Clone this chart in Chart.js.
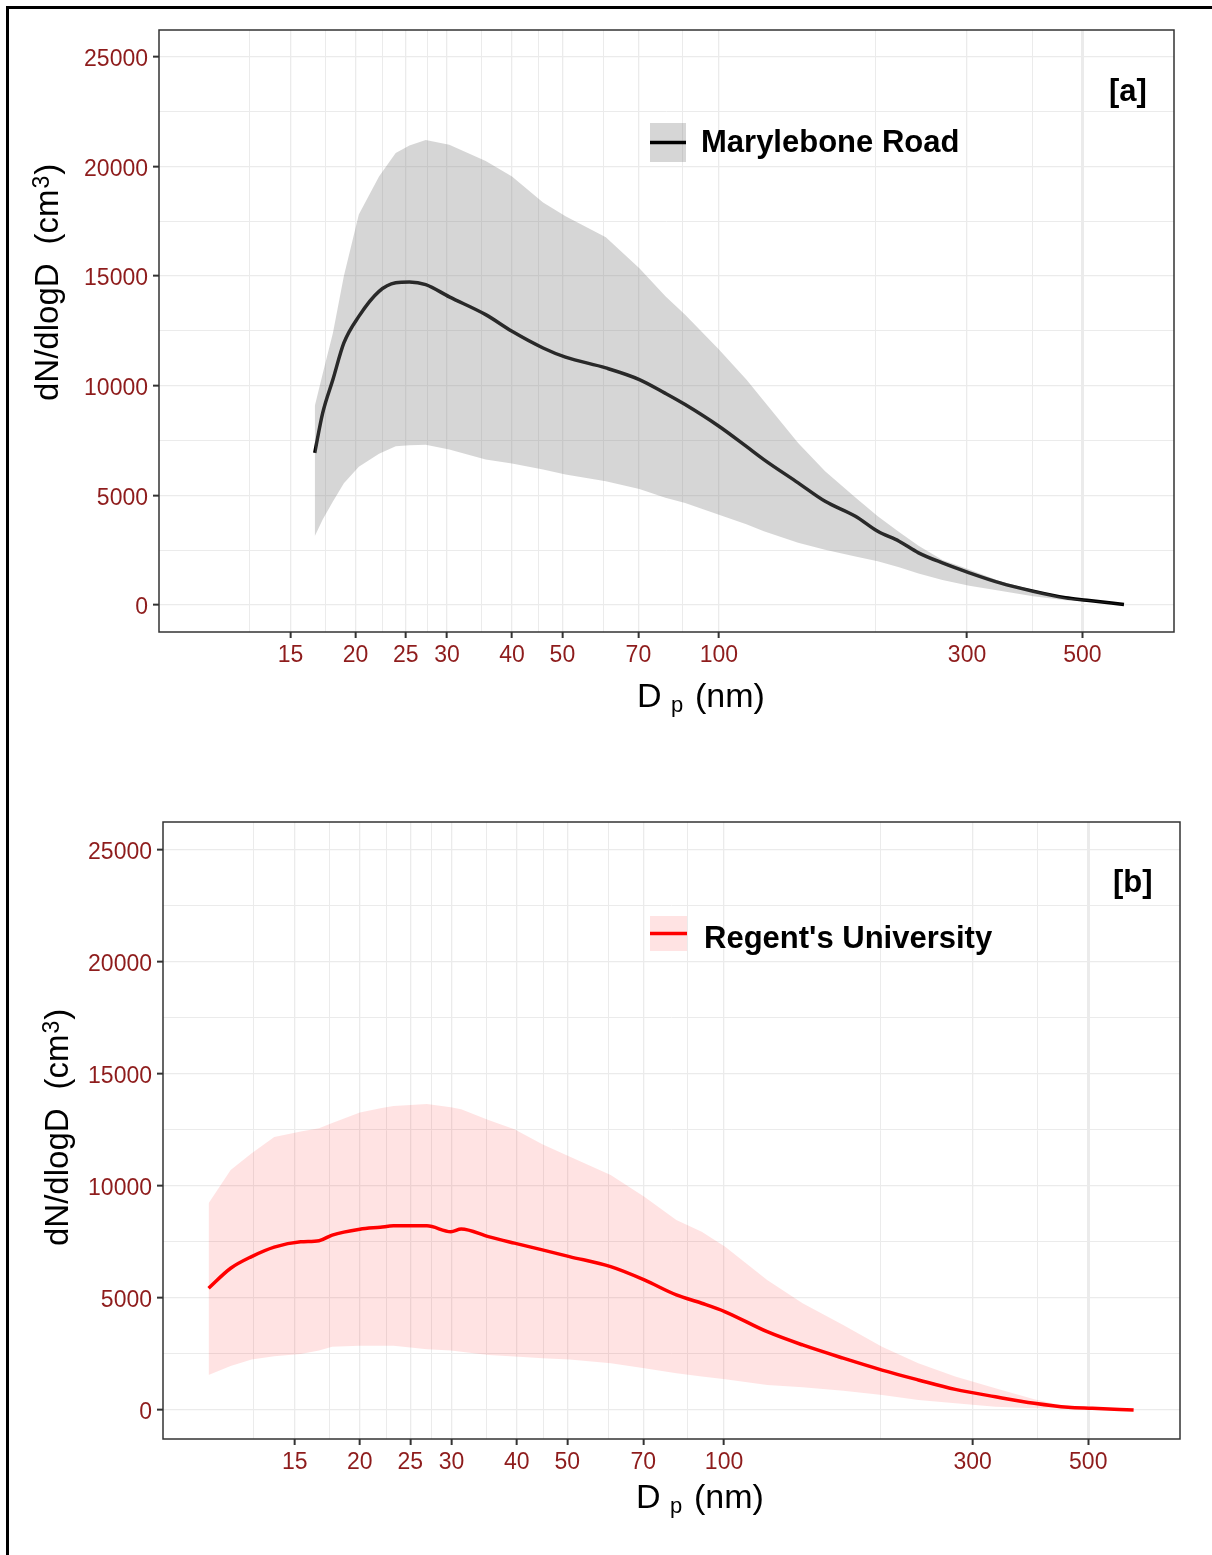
<!DOCTYPE html>
<html>
<head>
<meta charset="utf-8">
<script src="https://cdn.jsdelivr.net/npm/chart.js@4.4.1/dist/chart.umd.min.js"></script>
<style>
body { margin: 0; background: #fff; }
#page { position: relative; width: 1212px; height: 1555px; overflow: hidden; }
#frame { position: absolute; left: 6px; top: 6px; width: 1300px; height: 1700px; border-left: 3.5px solid #000; border-top: 3.5px solid #000; }
canvas { position: absolute; left: 0; }
#chartA { top: 0; }
#chartB { top: 780px; }
</style>
</head>
<body>
<div id="page">
<div id="frame"></div>
<canvas id="chartA" width="1212" height="780"></canvas>
<canvas id="chartB" width="1212" height="775"></canvas>
</div>
<script>
// tick values (nm) for the log x axis; minor ones only get a grid line
var xMajor = [15, 20, 25, 30, 40, 50, 70, 100, 300, 500];
var xMinor = [12.5, 17.5, 22.5, 27.5, 35, 45, 60, 85, 200, 400];
var yMajor = [0, 5000, 10000, 15000, 20000, 25000];
var yMinor = [2500, 7500, 12500, 17500, 22500];

// [a] Marylebone Road
var mbDp   = [16.7, 17.3, 18.1, 19.0, 20.3, 22.2, 23.9, 25.4, 27.3, 30.3, 35.6, 40, 45.9, 50.7, 60.6, 70.3, 78.9, 86.1, 100, 112.9, 122, 142, 160, 183, 202, 222, 242, 269, 303, 347, 402, 464, 510, 601];
var mbMean = [6940, 8760, 10280, 11950, 13160, 14300, 14690, 14730, 14610, 14050, 13240, 12480, 11720, 11300, 10810, 10280, 9650, 9140, 8150, 7230, 6630, 5570, 4730, 4050, 3360, 2910, 2380, 1920, 1470, 1010, 630, 330, 220, 20];
var mbHigh = [9060, 10550, 12400, 15000, 17800, 19540, 20610, 20950, 21200, 20990, 20250, 19540, 18350, 17720, 16770, 15350, 14080, 13230, 11650, 10280, 9300, 7390, 6100, 4900, 4050, 3330, 2700, 2050, 1620, 1080, 680, 345, 225, 25];
var mbLow  = [3140, 3900, 4720, 5550, 6300, 6900, 7240, 7290, 7310, 7090, 6640, 6450, 6180, 5950, 5640, 5290, 4890, 4650, 4120, 3680, 3360, 2840, 2520, 2210, 2000, 1720, 1440, 1140, 880, 650, 400, 220, 200, 15];

// [b] Regent's University
var rgDp   = [10.25, 11.3, 12.4, 13.7, 15.4, 16.7, 17.7, 20.0, 21.9, 23.2, 26.9, 29.9, 31.3, 35.3, 39.6, 44.8, 50.5, 60.6, 70.3, 81, 90.6, 100.5, 121, 141.5, 169.3, 201, 236, 277.8, 331.8, 393.8, 457.5, 509, 611];
var rgMean = [5430, 6320, 6840, 7260, 7500, 7550, 7800, 8060, 8150, 8210, 8210, 7950, 8070, 7730, 7440, 7140, 6840, 6390, 5800, 5130, 4760, 4380, 3490, 2900, 2310, 1780, 1340, 920, 590, 300, 120, 76, 0];
var rgHigh = [9220, 10700, 11450, 12170, 12420, 12560, 12800, 13260, 13450, 13560, 13640, 13500, 13410, 12930, 12520, 11850, 11300, 10480, 9510, 8470, 7950, 7280, 5800, 4760, 3790, 2820, 2080, 1490, 970, 480, 150, 90, 5];
var rgLow  = [1560, 1960, 2250, 2400, 2500, 2650, 2820, 2870, 2870, 2870, 2710, 2650, 2600, 2450, 2380, 2310, 2250, 2080, 1860, 1640, 1490, 1370, 1120, 1010, 860, 670, 450, 300, 150, 75, 60, 40, -5];

var tickRed = '#8E1C1C';
var gridCol = '#EBEBEB';
var font = '"Liberation Sans", Arial, sans-serif';

function pts(xs, ys) {
	return xs.map(function(x, i) { return {x: x, y: ys[i]}; });
}

// border, legend, tag and axis titles drawn like the ggplot figure
var panelDeco = {
	id: 'panelDeco',
	afterDraw: function(chart, args, o) {
		var c = chart.ctx, a = chart.chartArea;
		c.save();
		c.strokeStyle = '#333';
		c.lineWidth = 1.5;
		c.strokeRect(a.left, a.top, a.right - a.left, a.bottom - a.top);

		var k = o.key;
		c.fillStyle = o.fill;
		c.fillRect(k[0], k[1], k[2], k[3]);
		c.strokeStyle = o.line;
		c.lineWidth = 3.5;
		c.beginPath();
		c.moveTo(k[0], k[1] + k[3] / 2);
		c.lineTo(k[0] + k[2], k[1] + k[3] / 2);
		c.stroke();

		c.fillStyle = '#000';
		c.textAlign = 'left';
		c.textBaseline = 'alphabetic';
		c.font = 'bold 31px ' + font;
		c.fillText(o.label, o.labelAt[0], o.labelAt[1]);
		c.fillText(o.tag, o.tagAt[0], o.tagAt[1]);

		// x title: D p (nm)
		var xt = o.xTitle;
		c.font = '34px ' + font;
		c.fillText('D', xt[0], xt[1]);
		c.font = '22px ' + font;
		c.fillText('p', xt[0] + 34, xt[1] + 5);
		c.font = '34px ' + font;
		c.fillText('(nm)', xt[0] + 58, xt[1]);

		// y title: dN/dlogD (cm^3)
		var yt = o.yTitle;
		c.translate(yt[0], yt[1]);
		c.rotate(-Math.PI / 2);
		c.font = '33px ' + font;
		c.fillText('dN/dlogD', 0, 0);
		var p = c.measureText('dN/dlogD').width + 19;
		c.fillText('(cm', p, 0);
		p += c.measureText('(cm').width + 1;
		c.font = '23px ' + font;
		c.fillText('3', p, -9);
		p += c.measureText('3').width + 1;
		c.font = '33px ' + font;
		c.fillText(')', p, 0);
		c.restore();
	}
};

function makePanel(id, dp, mean, low, high, st) {
	var ctx = document.getElementById(id);
	return new Chart(ctx, {
		type: 'line',
		data: {
			datasets: [
				{
					data: pts(dp, high),
					borderWidth: 0,
					pointRadius: 0,
					backgroundColor: st.fill,
					fill: '+1'
				},
				{
					data: pts(dp, low),
					borderWidth: 0,
					pointRadius: 0,
					fill: false
				},
				{
					data: pts(dp, mean),
					borderColor: st.line,
					borderWidth: 3.5,
					pointRadius: 0,
					cubicInterpolationMode: 'monotone',
					fill: false
				}
			]
		},
		options: {
			responsive: false,
			animation: false,
			layout: { padding: st.pad },
			plugins: {
				legend: { display: false },
				tooltip: { enabled: false },
				panelDeco: st.deco
			},
			scales: {
				x: {
					type: 'logarithmic',
					bounds: 'data',
					min: 8.38,
					max: 750,
					afterBuildTicks: function(scale) {
						scale.ticks = xMajor.concat(xMinor).sort(function(a, b) { return a - b; })
							.map(function(v) { return {value: v}; });
					},
					afterFit: function(scale) { scale.height = st.xh; },
					border: { display: false },
					grid: {
						color: gridCol,
						lineWidth: function(c) {
							if (!c.tick) return 1;
							if (c.tick.value === 500) return 3;
							return xMajor.indexOf(c.tick.value) >= 0 ? 1.3 : 1;
						},
						tickColor: function(c) {
							return c.tick && xMajor.indexOf(c.tick.value) >= 0 ? '#333' : 'rgba(0,0,0,0)';
						},
						tickWidth: 2,
						tickLength: 6
					},
					ticks: {
						autoSkip: false,
						maxRotation: 0,
						padding: 4,
						color: tickRed,
						font: { family: font, size: 23 },
						callback: function(v) { return xMajor.indexOf(v) >= 0 ? String(v) : ''; }
					}
				},
				y: {
					type: 'linear',
					bounds: 'data',
					min: st.ymin,
					max: st.ymax,
					afterBuildTicks: function(scale) {
						scale.ticks = yMajor.concat(yMinor).sort(function(a, b) { return a - b; })
							.map(function(v) { return {value: v}; });
					},
					afterFit: function(scale) { scale.width = st.yw; },
					border: { display: false },
					grid: {
						color: gridCol,
						lineWidth: function(c) {
							return c.tick && yMajor.indexOf(c.tick.value) >= 0 ? 1.3 : 1;
						},
						tickColor: function(c) {
							return c.tick && yMajor.indexOf(c.tick.value) >= 0 ? '#333' : 'rgba(0,0,0,0)';
						},
						tickWidth: 2,
						tickLength: 6
					},
					ticks: {
						autoSkip: false,
						padding: 5,
						labelOffset: 3,
						color: tickRed,
						font: { family: font, size: 23 },
						callback: function(v) { return yMajor.indexOf(v) >= 0 ? String(v) : ''; }
					}
				}
			}
		},
		plugins: [panelDeco]
	});
}

makePanel('chartA', mbDp, mbMean, mbLow, mbHigh, {
	fill: 'rgba(127,127,127,0.32)',
	line: '#000000',
	pad: { top: 30, right: 38, bottom: 0, left: 0 },
	xh: 148, yw: 159,
	ymin: -1230, ymax: 26217,
	deco: {
		key: [650, 123, 36, 39], fill: 'rgba(127,127,127,0.32)', line: '#000000',
		label: 'Marylebone Road', labelAt: [701, 152],
		tag: '[a]', tagAt: [1109, 101],
		xTitle: [637, 707], yTitle: [58, 401]
	}
});

makePanel('chartB', rgDp, rgMean, rgLow, rgHigh, {
	fill: 'rgba(255,0,0,0.11)',
	line: '#FF0000',
	pad: { top: 42, right: 32, bottom: 0, left: 0 },
	xh: 116, yw: 163,
	ymin: -1293, ymax: 26218,
	deco: {
		key: [650, 136, 37, 35], fill: 'rgba(255,0,0,0.11)', line: '#FF0000',
		label: "Regent's University", labelAt: [704, 168],
		tag: '[b]', tagAt: [1113, 112],
		xTitle: [636, 728], yTitle: [68, 466]
	}
});
</script>
</body>
</html>
